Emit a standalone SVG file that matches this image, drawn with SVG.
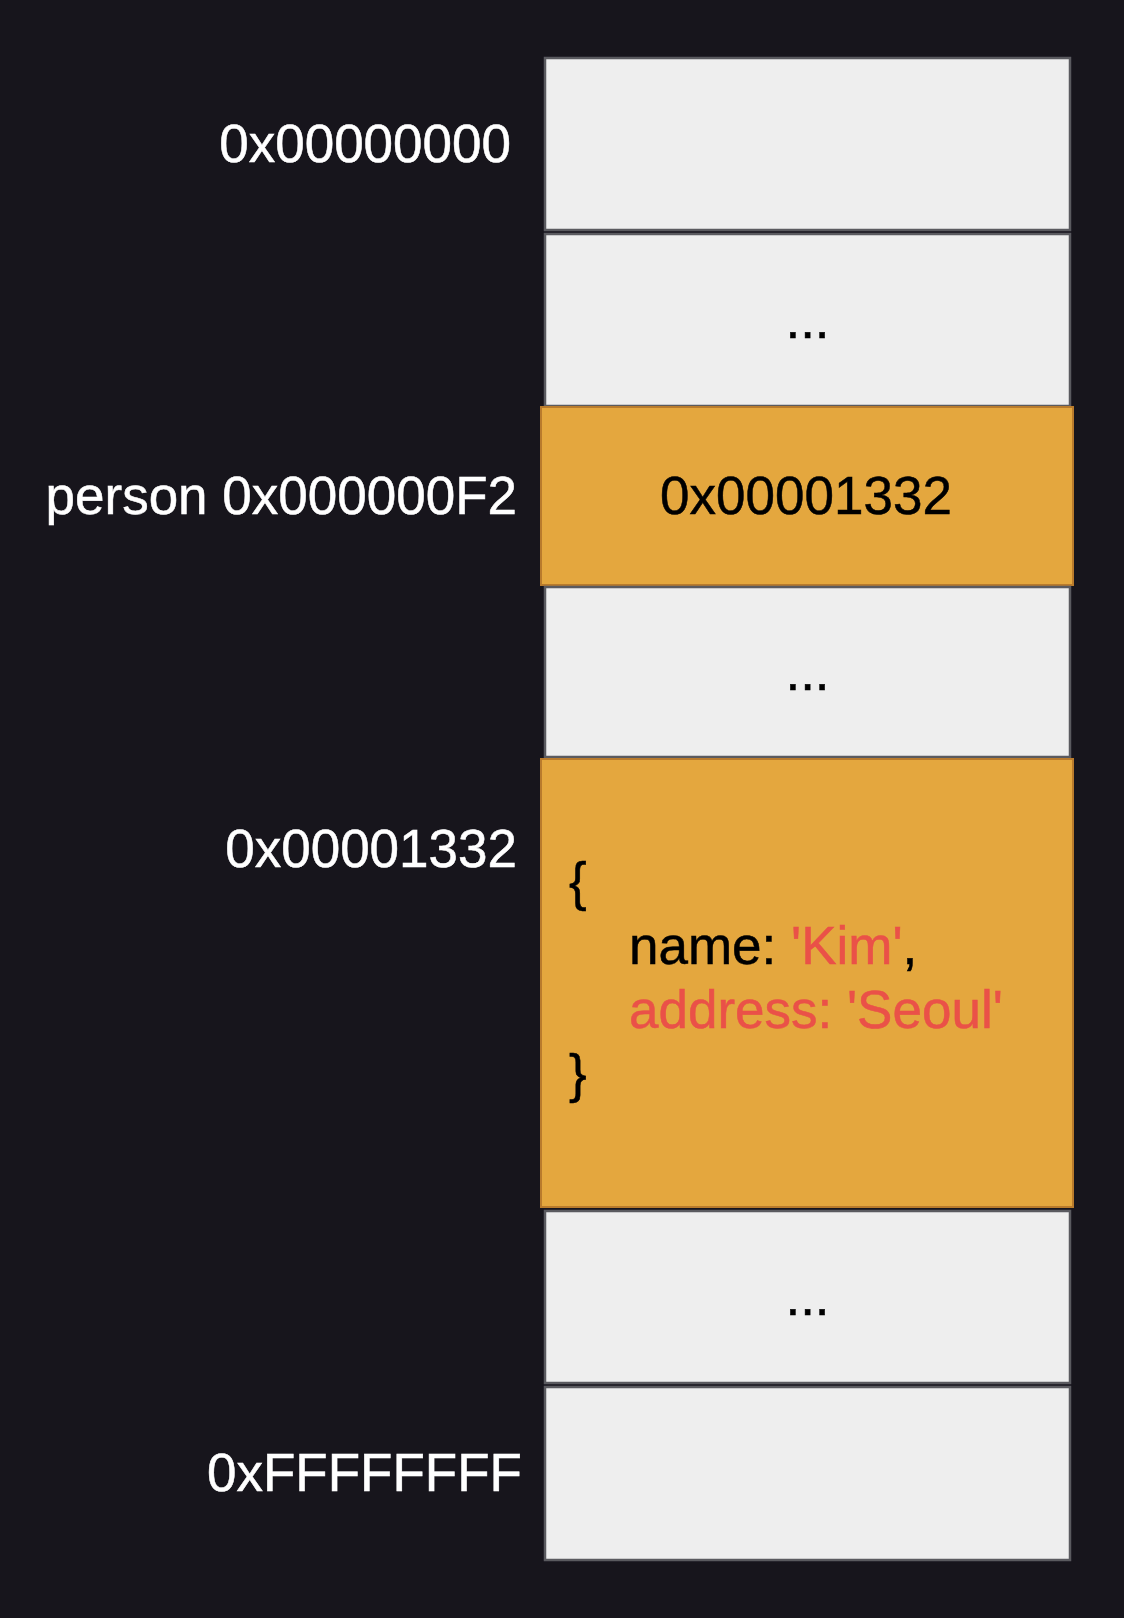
<svg xmlns="http://www.w3.org/2000/svg" width="1124" height="1618" viewBox="0 0 1124 1618">
  <defs>
    <style>
      .bg { fill: #17151c; }
      .cell { fill: #eeeeee; stroke: #5a5a5f; stroke-width: 2.5; }
      .hot { fill: #e4a73e; stroke: #b97b2c; stroke-width: 2; }
      .t { font-family: "Liberation Sans", Arial, Helvetica, sans-serif; font-size: 53px; stroke-width: 0.5; }
      .lbl { fill: #ffffff; stroke: #ffffff; text-anchor: end; }
      .in { fill: #000000; stroke: #000000; text-anchor: middle; }
      .code { fill: #000000; stroke: #000000; }
      .red { fill: #ea5148; stroke: #ea5148; }
    </style>
  </defs>
  <rect class="bg" x="0" y="0" width="1124" height="1618"/>

  <g id="labels">
    <text class="t lbl" x="511" y="162">0x00000000</text>
    <text class="t lbl" x="517" y="514">person 0x000000F2</text>
    <text class="t lbl" x="517" y="867">0x00001332</text>
    <text class="t lbl" x="522" y="1491">0xFFFFFFFF</text>
  </g>

  <g id="cell-1">
    <rect class="cell" x="545" y="58" width="525" height="172"/>
  </g>
  <g id="cell-2">
    <rect class="cell" x="545" y="234" width="525" height="172"/>
    <text class="t in" x="807.5" y="338">...</text>
  </g>
  <g id="cell-person">
    <rect class="hot" x="541" y="407" width="532" height="178"/>
    <text class="t in" x="806" y="514">0x00001332</text>
  </g>
  <g id="cell-4">
    <rect class="cell" x="545" y="587" width="525" height="170"/>
    <text class="t in" x="807.5" y="690">...</text>
  </g>
  <g id="cell-object">
    <rect class="hot" x="541" y="759" width="532" height="448"/>
    <text class="t code" x="569" y="900">{</text>
    <text class="t code" x="629" y="964">name: <tspan class="red">'Kim'</tspan>,</text>
    <text class="t red" x="629" y="1028">address: 'Seoul'</text>
    <text class="t code" x="569" y="1092">}</text>
  </g>
  <g id="cell-6">
    <rect class="cell" x="545" y="1211" width="525" height="172"/>
    <text class="t in" x="807.5" y="1315">...</text>
  </g>
  <g id="cell-7">
    <rect class="cell" x="545" y="1387" width="525" height="173"/>
  </g>

  <g id="connectors"></g>
</svg>
